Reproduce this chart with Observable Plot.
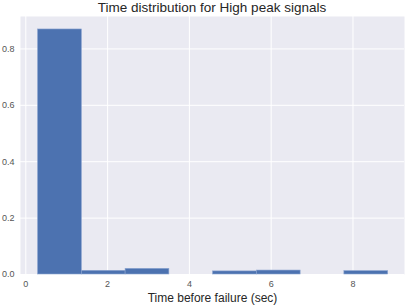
<!DOCTYPE html>
<html>
<head>
<meta charset="utf-8">
<script src="https://cdn.jsdelivr.net/npm/d3@7"></script>
<script src="https://cdn.jsdelivr.net/npm/@observablehq/plot@0.6"></script>
<style>
  html, body { margin: 0; padding: 0; background: #ffffff; }
  #title { width: 408px; height: 16px; line-height: 15px; text-align: center; font-family: "Liberation Sans", Arial, sans-serif; font-size: 13.5px; color: #262626; padding-left: 16px; box-sizing: border-box; white-space: nowrap; }
  svg { display: block; }
</style>
</head>
<body>
<div id="title">Time distribution for High peak signals</div>
<div id="chart"></div>
<script>
const binEdges = [0.30, 1.37, 2.44, 3.51, 4.58, 5.65, 6.72, 7.79, 8.86];
const densities = [0.869, 0.013, 0.020, 0, 0.011, 0.014, 0, 0.012];
const xTicks = [0, 2, 4, 6, 8];
const yTicks = [0, 0.2, 0.4, 0.6, 0.8];

const bins = densities.map((v, i) => ({x1: binEdges[i], x2: binEdges[i + 1], y: v}));

const chart = Plot.plot({
  width: 408,
  height: 290,
  marginLeft: 20,
  marginRight: 4,
  marginTop: 0,
  marginBottom: 32,
  style: {fontFamily: "Liberation Sans, Arial, sans-serif", fontSize: "9px", color: "#555"},
  x: {domain: [-0.13, 9.26], ticks: xTicks, tickSize: 0, tickPadding: 6, tickFormat: d => String(d), label: null},
  y: {domain: [0, 0.915], ticks: yTicks, tickSize: 0, tickPadding: 6, tickFormat: d3.format(".1f"), label: null},
  marks: [
    Plot.frame({fill: "#eaeaf2", stroke: null}),
    Plot.gridX(xTicks, {stroke: "#ffffff", strokeOpacity: 1, strokeWidth: 1}),
    Plot.gridY(yTicks, {stroke: "#ffffff", strokeOpacity: 1, strokeWidth: 1}),
    Plot.rectY(bins.filter(d => d.y > 0), {x1: "x1", x2: "x2", y: "y", fill: "#4c72b0", stroke: "#8aa3cf", strokeWidth: 0.6}),
    Plot.axisX({ticks: xTicks, tickSize: 0, tickPadding: 6, tickFormat: d => String(d), label: null}),
    Plot.axisY({ticks: yTicks, tickSize: 0, tickPadding: 6, tickFormat: d3.format(".1f"), label: null}),
    Plot.text(["Time before failure (sec)"], {frameAnchor: "bottom", dy: 27, fontSize: 12, fill: "#262626", fontFamily: "Liberation Sans, Arial, sans-serif"})
  ]
});
document.getElementById("chart").appendChild(chart);
</script>
</body>
</html>
